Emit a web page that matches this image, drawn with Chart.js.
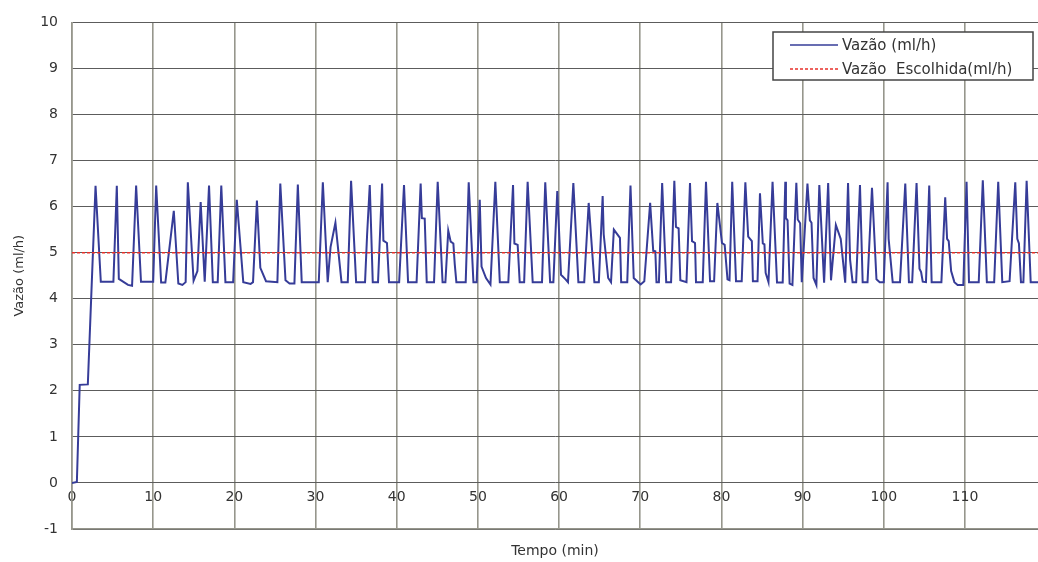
<!DOCTYPE html>
<html>
<head>
<meta charset="utf-8">
<script src="https://cdn.jsdelivr.net/npm/chart.js@4.4.1/dist/chart.umd.min.js"></script>
<style>
  html, body { margin: 0; padding: 0; background: #fff; }
  #grafico { display: block; }
</style>
</head>
<body>
<canvas id="grafico" width="1038" height="562"></canvas>
<script>
// tempo (min) e vazão (ml/h)
const tempo = [
  0, 0.6, 0.95, 1.95, 2.9, 3.55, 5.1, 5.52, 5.77, 6.9, 7.4, 7.9, 8.5, 10.0, 10.37, 10.98, 11.5, 12.54,
  13.1, 13.6, 14.0, 14.27, 14.98, 15.45, 15.85, 16.35, 16.88, 17.35, 17.95, 18.39, 18.9, 19.85,
  20.3, 21.1, 22.0, 22.3, 22.78, 23.2, 23.9, 25.3, 25.66, 26.3, 26.8, 27.4, 27.82, 28.3, 30.4, 30.9,
  31.5, 31.85, 32.45, 33.2, 33.97, 34.38, 35.0, 36.1, 36.35, 36.68, 37.05, 37.7, 38.2, 38.36, 38.8, 39.05, 40.3,
  40.9, 41.4, 42.45, 42.95, 43.1, 43.45, 43.7, 44.6, 45.05, 45.65, 46.0, 46.35, 46.65, 46.98, 47.15, 47.35,
  48.5, 48.87, 49.45, 49.85, 50.23, 50.45, 51.0, 51.55, 52.15, 52.7, 53.75, 54.33, 54.5, 54.9, 55.15, 55.7,
  56.13, 56.75, 57.9, 58.3, 58.9, 59.3,
  59.78, 60.24, 60.8, 61.1, 61.76, 62.38, 63.1, 63.65, 64.35, 64.9, 65.37, 65.5, 66.05, 66.4, 66.75, 67.5,
  67.65, 68.4, 68.8, 69.2, 69.75, 70.05, 70.5, 71.22, 71.6, 71.86, 72.0, 72.3, 72.7, 73.2, 73.8, 74.2, 74.4,
  74.73, 74.94, 75.7, 76.13, 76.38, 76.75, 76.87, 77.7, 78.1, 78.6, 79.1, 79.5, 80.07, 80.4, 80.75, 81.0,
  81.33, 81.8, 82.5, 82.95, 83.3, 83.75, 83.88, 84.45, 84.75, 85.1, 85.3, 85.45, 85.8, 86.3, 86.85, 87.55,
  87.87, 87.95, 88.15, 88.4, 88.75, 89.23, 89.4, 89.7, 89.9, 90.6, 90.9, 91.1, 91.35, 91.7, 92.06, 92.65,
  93.15, 93.5, 94.1, 94.7, 95.25, 95.6, 95.85, 96.16, 96.6, 97.07, 97.4, 98.0, 98.55, 99.1, 99.5, 100.0,
  100.47, 100.6, 101.1, 102.0, 102.65, 103.1, 103.5, 104.04, 104.4, 104.6, 104.8, 105.2, 105.6, 105.9,
  107.1, 107.57, 107.8, 108.0, 108.3, 108.7, 109.1, 109.8, 110.2, 110.5, 111.7, 112.2, 112.7, 113.6,
  114.1, 114.6, 115.5, 116.2, 116.45, 116.65, 116.9, 117.2, 117.6, 118.1, 119
];
const vazao = [
  0, 0.02, 2.13, 2.14, 6.45, 4.37, 4.37, 6.45, 4.43, 4.3, 4.28, 6.46, 4.37, 4.37, 6.46, 4.35, 4.35, 5.91,
  4.33, 4.3, 4.36, 6.53, 4.39, 4.6, 6.1, 4.37, 6.46, 4.36, 4.36, 6.46, 4.36, 4.36,
  6.15, 4.36, 4.32, 4.36, 6.13, 4.67, 4.38, 4.36, 6.5, 4.4, 4.33, 4.33, 6.48, 4.36, 4.36, 6.53,
  4.36, 5.12, 5.65, 4.36, 4.36, 6.56, 4.36, 4.36, 5.38, 6.47, 4.36, 4.36, 6.5, 5.26, 5.21, 4.36, 4.36,
  6.47, 4.36, 4.36, 6.5, 5.75, 5.74, 4.36, 4.36, 6.54, 4.36, 4.36, 5.48, 5.24, 5.2, 4.75, 4.36,
  4.36, 6.53, 4.36, 4.36, 6.15, 4.7, 4.45, 4.31, 6.54, 4.36, 4.36, 6.47, 5.2, 5.17, 4.36, 4.36,
  6.54, 4.36, 4.36, 6.53, 4.36, 4.36,
  6.34, 4.52, 4.42, 4.36, 6.51, 4.36, 4.36, 6.08, 4.36, 4.36, 6.23, 5.4, 4.45, 4.36, 5.5, 5.32,
  4.36, 4.36, 6.46, 4.45, 4.36, 4.31, 4.38, 6.08, 5.04, 5.03, 4.36, 4.36, 6.51, 4.36, 4.36, 6.56, 5.56,
  5.53, 4.4, 4.36, 6.51, 5.25, 5.21, 4.36, 4.36, 6.54, 4.38, 4.38, 6.08, 5.21, 5.17, 4.42, 4.4,
  6.54, 4.38, 4.38, 6.53, 5.35, 5.25, 4.38, 4.38, 6.29, 5.2, 5.18, 4.56, 4.36, 6.54, 4.35, 4.35,
  6.54, 5.75, 5.7, 4.33, 4.3, 6.52, 5.72, 5.64, 4.36, 6.5, 5.7, 5.65, 4.45, 4.3, 6.47, 4.35,
  6.51, 4.4, 5.6, 5.3, 4.35, 6.51, 4.85, 4.36, 4.36, 6.47, 4.36, 4.36, 6.41, 4.42, 4.36, 4.36,
  6.53, 5.3, 4.36, 4.36, 6.5, 4.36, 4.36, 6.51, 4.65, 4.58, 4.37, 4.36, 6.46, 4.36,
  4.36, 6.2, 5.3, 5.25, 4.6, 4.36, 4.3, 4.3, 6.54, 4.36, 4.36, 6.57, 4.36, 4.36,
  6.54, 4.36, 4.38, 6.53, 5.3, 5.2, 4.36, 4.36, 6.56, 4.36, 4.36
];
// vazão escolhida
const escolhidaTempo = [0, 119];
const escolhidaVazao = [5, 5];

const fonte = 'DejaVu Sans';
const corTexto = '#333333';

// legenda desenhada dentro da área do gráfico
const legendaPlugin = {
  id: 'legendaInterna',
  afterDraw(chart) {
    const ctx = chart.ctx;
    const x0 = 773, y0 = 32, w = 260, h = 48;
    ctx.save();
    ctx.fillStyle = '#ffffff';
    ctx.fillRect(x0, y0, w, h);
    ctx.strokeStyle = '#444444';
    ctx.lineWidth = 1.5;
    ctx.strokeRect(x0, y0, w, h);
    const itens = [chart.data.datasets[1], chart.data.datasets[0]];
    itens.forEach((ds, i) => {
      const y = y0 + 13 + i * 24;
      ctx.beginPath();
      ctx.strokeStyle = ds.borderColor;
      ctx.lineWidth = i === 0 ? 1.5 : 1.3;
      ctx.setLineDash(ds.borderDash || []);
      ctx.moveTo(790, y);
      ctx.lineTo(838, y);
      ctx.stroke();
      ctx.setLineDash([]);
      ctx.fillStyle = corTexto;
      ctx.font = '15px "' + fonte + '"';
      ctx.textBaseline = 'middle';
      ctx.fillText(ds.label, 842, y + 1);
    });
    ctx.restore();
  }
};

const ctx = document.getElementById('grafico').getContext('2d');
const chart = new Chart(ctx, {
  type: 'line',
  data: {
    datasets: [
      {
        label: 'Vazão  Escolhida(ml/h)',
        data: escolhidaTempo.map((t, i) => ({ x: t, y: escolhidaVazao[i] })),
        borderColor: '#e8302a',
        borderWidth: 1.5,
        borderDash: [3, 2],
        pointRadius: 0,
        order: 0
      },
      {
        label: 'Vazão (ml/h)',
        data: tempo.map((t, i) => ({ x: t, y: vazao[i] })),
        borderColor: '#363c98',
        borderWidth: 2,
        tension: 0,
        pointRadius: 0,
        order: 1
      }
    ]
  },
  options: {
    responsive: false,
    animation: false,
    layout: { padding: { top: 20, right: 0, bottom: 0, left: 0 } },
    plugins: {
      legend: { display: false },
      tooltip: { enabled: false }
    },
    scales: {
      x: {
        type: 'linear',
        min: 0,
        max: 119,
        ticks: {
          stepSize: 10,
          includeBounds: false,
          mirror: true,
          padding: 23,
          color: corTexto,
          font: { family: fonte, size: 14 }
        },
        grid: { color: '#96968c', lineWidth: 1.6, drawTicks: false },
        border: { color: '#96968c', width: 1.6 },
        title: {
          display: true,
          text: 'Tempo (min)',
          color: corTexto,
          font: { family: fonte, size: 14 },
          padding: { top: 0, bottom: 2 }
        },
        afterFit: s => { s.height = 33; }
      },
      y: {
        min: -1,
        max: 10,
        ticks: {
          stepSize: 1,
          padding: 14,
          color: corTexto,
          font: { family: fonte, size: 14 }
        },
        grid: { color: '#5c5c5c', lineWidth: 1, drawTicks: false },
        border: { color: '#96968c', width: 1.6 },
        title: {
          display: true,
          text: 'Vazão (ml/h)',
          color: corTexto,
          font: { family: fonte, size: 13 },
          padding: { top: 12, bottom: 0 }
        },
        afterFit: s => { s.width = 72; }
      }
    }
  },
  plugins: [legendaPlugin]
});
</script>
</body>
</html>
